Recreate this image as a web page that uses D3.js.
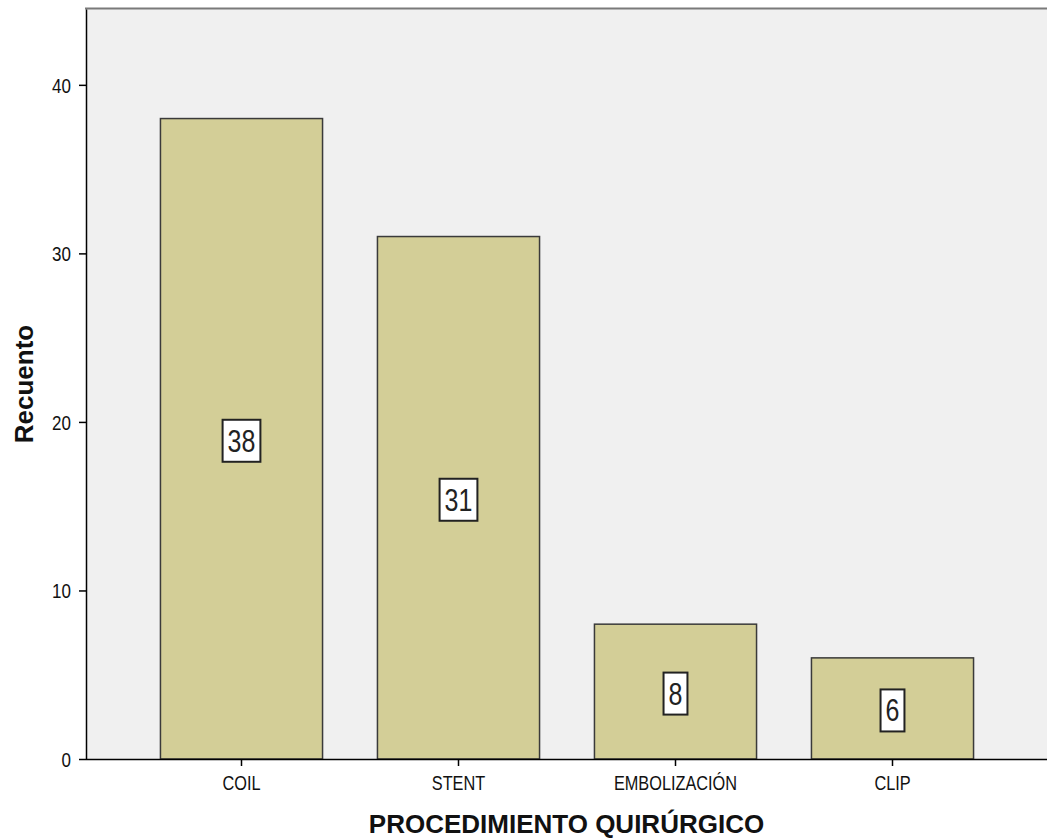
<!DOCTYPE html>
<html>
<head>
<meta charset="utf-8">
<script src="https://cdn.jsdelivr.net/npm/d3@7"></script>
<style>
  html, body { margin: 0; padding: 0; background: #ffffff; }
  svg { display: block; }
  .lbl { font-family: "Liberation Sans", Arial, sans-serif; }
  .bold { font-family: "Liberation Sans", Arial, sans-serif; font-weight: bold; }
</style>
</head>
<body>
<svg id="chart" width="1047" height="840"></svg>
<script>
// Surgical procedure counts
const categories = ["COIL", "STENT", "EMBOLIZACIÓN", "CLIP"];
const counts = [38, 31, 8, 6];
const yTicks = [0, 10, 20, 30, 40];
const xTitle = "PROCEDIMIENTO QUIRÚRGICO";
const yTitle = "Recuento";

const plot = { left: 86, right: 1047, top: 9, bottom: 759 };
const stretch = 1.23; // tall, condensed look of the small labels

const svg = d3.select("#chart");

const x = d3.scaleBand()
  .domain(categories)
  .range([133, 1001])
  .paddingInner(0.253)
  .paddingOuter(0.1265);

const y = d3.scaleLinear()
  .domain([0, 44.5])
  .range([plot.bottom, plot.top]);

// plot background
svg.append("rect")
  .attr("x", plot.left).attr("y", plot.top)
  .attr("width", plot.right - plot.left).attr("height", plot.bottom - plot.top)
  .attr("fill", "#f0f0f0");

// top frame line
svg.append("line")
  .attr("x1", plot.left - 1).attr("x2", plot.right)
  .attr("y1", plot.top - 0.5).attr("y2", plot.top - 0.5)
  .attr("stroke", "#7a7a7a").attr("stroke-width", 2);

// bars
svg.append("g").selectAll("rect")
  .data(categories)
  .join("rect")
  .attr("x", d => x(d))
  .attr("y", (d, i) => y(counts[i]))
  .attr("width", x.bandwidth())
  .attr("height", (d, i) => y(0) - y(counts[i]))
  .attr("fill", "#d3ce97")
  .attr("stroke", "#3a3a3a")
  .attr("stroke-width", 1.5);

// y axis
const yAxis = svg.append("g")
  .attr("transform", `translate(${plot.left},0)`)
  .call(d3.axisLeft(y).tickValues(yTicks).tickSize(7).tickPadding(5).tickSizeOuter(0));
yAxis.select(".domain").attr("stroke", "#000").attr("stroke-width", 1.5);
yAxis.selectAll(".tick line").attr("stroke", "#000").attr("stroke-width", 1.5);
yAxis.selectAll(".tick text")
  .attr("class", "lbl")
  .attr("font-size", 17)
  .attr("fill", "#111")
  .attr("x", null)
  .attr("dy", "0.358em")
  .attr("transform", `translate(-15,0) scale(1,${stretch})`);

// x axis
const xAxis = svg.append("g")
  .attr("transform", `translate(0,${plot.bottom})`)
  .call(d3.axisBottom(x).tickSize(7).tickPadding(8).tickSizeOuter(0));
xAxis.select(".domain").attr("d", `M${plot.left},0.5H${plot.right}`)
  .attr("stroke", "#000").attr("stroke-width", 1.5);
xAxis.selectAll(".tick line").attr("stroke", "#000").attr("stroke-width", 1.5);
xAxis.selectAll(".tick text")
  .attr("class", "lbl")
  .attr("font-size", 16.3)
  .attr("fill", "#111")
  .attr("y", 0)
  .attr("dy", "0.716em")
  .attr("transform", `translate(0,17) scale(1,${stretch})`);

// value labels in boxed tags at the middle of each bar
const labels = svg.append("g").selectAll("g")
  .data(categories)
  .join("g")
  .attr("transform", (d, i) =>
    `translate(${x(d) + x.bandwidth() / 2},${(y(0) + y(counts[i])) / 2 + 2})`);

labels.each(function (d, i) {
  const g = d3.select(this);
  const rect = g.append("rect");
  const t = g.append("text")
    .attr("class", "lbl")
    .attr("font-size", 25)
    .attr("fill", "#222")
    .attr("text-anchor", "middle")
    .attr("dy", "0.358em")
    .attr("transform", `scale(1,${stretch})`)
    .text(counts[i]);
  const w = t.node().getComputedTextLength() + 10;
  const h = 42;
  rect.attr("x", -w / 2).attr("y", -h / 2)
    .attr("width", w).attr("height", h)
    .attr("fill", "#ffffff")
    .attr("stroke", "#222")
    .attr("stroke-width", 2);
});

// axis titles
svg.append("text")
  .attr("class", "bold")
  .attr("x", (plot.left + plot.right) / 2)
  .attr("y", 833)
  .attr("text-anchor", "middle")
  .attr("font-size", 26)
  .attr("fill", "#111")
  .text(xTitle);

svg.append("text")
  .attr("class", "bold")
  .attr("transform", `translate(33,${(plot.top + plot.bottom) / 2}) rotate(-90)`)
  .attr("text-anchor", "middle")
  .attr("font-size", 26)
  .attr("fill", "#111")
  .text(yTitle);
</script>
</body>
</html>
